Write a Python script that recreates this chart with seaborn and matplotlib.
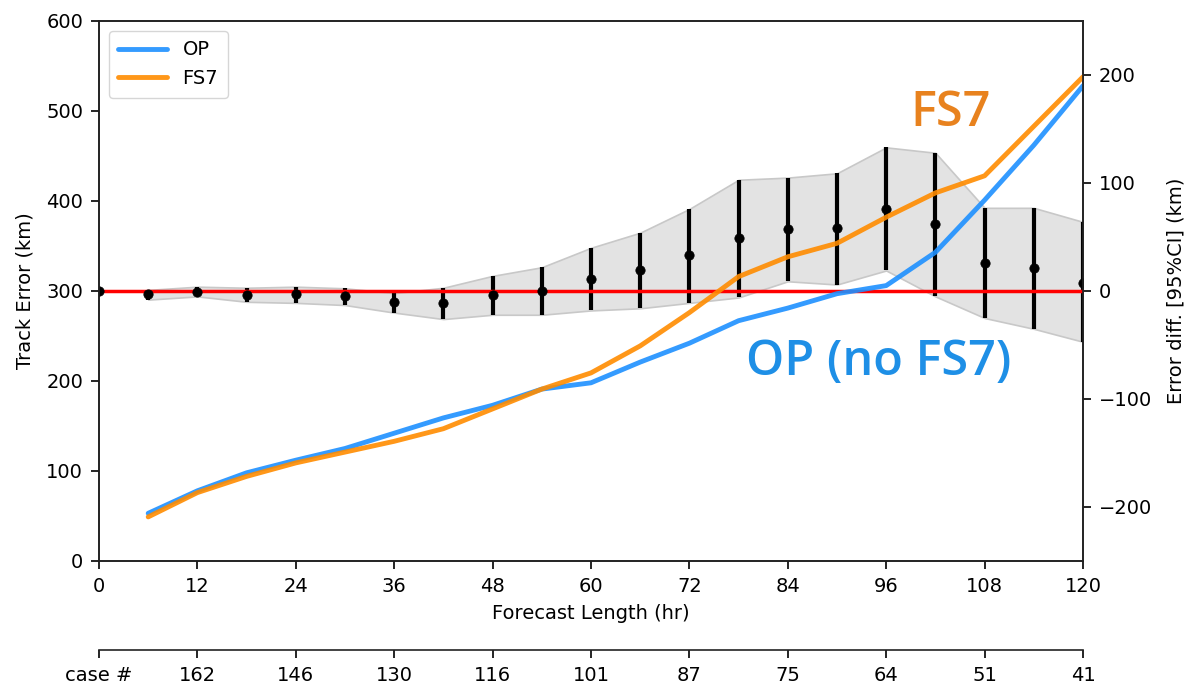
import matplotlib
matplotlib.use("Agg")
import matplotlib.pyplot as plt
import seaborn as sns
import numpy as np
import pandas as pd

sns.set_style("ticks")
plt.rcParams['font.family'] = ['DejaVu Sans']
plt.rcParams['text.color'] = 'black'
plt.rcParams['axes.labelcolor'] = 'black'
plt.rcParams['xtick.color'] = 'black'
plt.rcParams['ytick.color'] = 'black'
plt.rcParams['axes.edgecolor'] = '#222222'

# Data
hours = [6, 12, 18, 24, 30, 36, 42, 48, 54, 60, 66, 72, 78, 84, 90, 96, 102, 108, 114, 120]
op_err = [53, 78, 98, 112, 125, 142, 159, 173, 191, 198, 221, 242, 267, 281, 297, 306, 343, 401, 462, 528]
fs7_err = [49, 76, 94, 109, 121, 133, 147, 169, 191, 209, 239, 276, 316, 338, 353, 382, 409, 428, 483, 538]

diff_hours = [0, 6, 12, 18, 24, 30, 36, 42, 48, 54, 60, 66, 72, 78, 84, 90, 96, 102, 108, 114, 120]
diff_mean = [0, -3, -1, -4, -3, -5, -10, -11, -4, 0, 11, 19, 33, 49, 57, 58, 76, 62, 26, 21, 7]
diff_lo = [0, -8, -5, -10, -11, -13, -20, -26, -22, -22, -18, -16, -11, -6, 9, 6, 19, -5, -25, -35, -47]
diff_hi = [0, 1, 4, 3, 4, 2.5, -2, 3, 14, 22, 40, 54, 76, 103, 105, 109, 133, 128, 77, 77, 64]

xticks = [0, 12, 24, 36, 48, 60, 72, 84, 96, 108, 120]
case_labels = ["case #", "162", "146", "130", "116", "101", "87", "75", "64", "51", "41"]

FS = 14

fig = plt.figure(figsize=(11.88, 6.83), dpi=100)
ax = fig.add_axes([99/1188, 1 - 561/683, (1083 - 99)/1188, (561 - 21)/683])
ax2 = ax.twinx()

# Right axis: CI band, error bars, zero line
dh = np.array(diff_hours)
dm = np.array(diff_mean)
dl = np.array(diff_lo)
du = np.array(diff_hi)
mask = dh >= 6
ax2.fill_between(dh[mask], dl[mask], du[mask], color="#e3e3e3", edgecolor="#c8c8c8", linewidth=1.2, zorder=1)
ax2.vlines(dh[1:], dl[1:], du[1:], color="black", linewidth=3, zorder=3)
ax2.axhline(0, color="red", linewidth=2.5, zorder=4)
dfd = pd.DataFrame({"hour": diff_hours, "diff": diff_mean})
sns.scatterplot(data=dfd, x="hour", y="diff", ax=ax2, color="black", s=45, edgecolor="black", zorder=5)
ax2.set_ylim(-250, 250)
ax2.set_yticks([-200, -100, 0, 100, 200])
ax2.set_yticklabels(["\u2212200", "\u2212100", "0", "100", "200"])
ax2.set_ylabel("Error diff. [95%CI] (km)", fontsize=FS, labelpad=10)

# Left axis lines (draw on top of right axis)
ax.set_zorder(ax2.get_zorder() + 1)
ax.patch.set_visible(False)
df = pd.DataFrame({"hour": hours + hours,
                   "err": op_err + fs7_err,
                   "exp": ["OP"] * len(hours) + ["FS7"] * len(hours)})
sns.lineplot(data=df, x="hour", y="err", hue="exp", palette={"OP": "#1e90ff", "FS7": "#ff8c00"},
             linewidth=3.5, ax=ax, alpha=0.9)
ax.set_xlim(0, 120)
ax.set_ylim(0, 600)
ax.set_xticks(xticks)
ax.set_yticks([0, 100, 200, 300, 400, 500, 600])
ax.set_xlabel("Forecast Length (hr)", fontsize=FS, labelpad=6)
ax.set_ylabel("Track Error (km)", fontsize=FS, labelpad=8)
leg = ax.legend(loc="upper left", fontsize=FS, frameon=True, handlelength=2.5,
                borderaxespad=0.5, borderpad=0.5)
leg.set_title(None)

for a in (ax, ax2):
    a.tick_params(labelsize=FS, length=5.5, width=1.2, pad=6)
    for s in a.spines.values():
        s.set_linewidth(1.2)

ax.text(103.8, 497, "FS7", color="#e8821e", fontsize=35, fontweight="semibold",
        family="Open Sans", ha="center", va="center")
ax.text(95.1, 221, "OP (no FS7)", color="#1e8fe6", fontsize=35, fontweight="semibold",
        family="Open Sans", ha="center", va="center")

sec = ax.secondary_xaxis(-0.165)
sec.set_xticks(xticks)
sec.set_xticklabels(case_labels)
sec.tick_params(labelsize=FS, length=5.5, width=1.2, pad=6)
sec.spines["bottom"].set_linewidth(1.2)

fig.savefig("out.png", dpi=100)
